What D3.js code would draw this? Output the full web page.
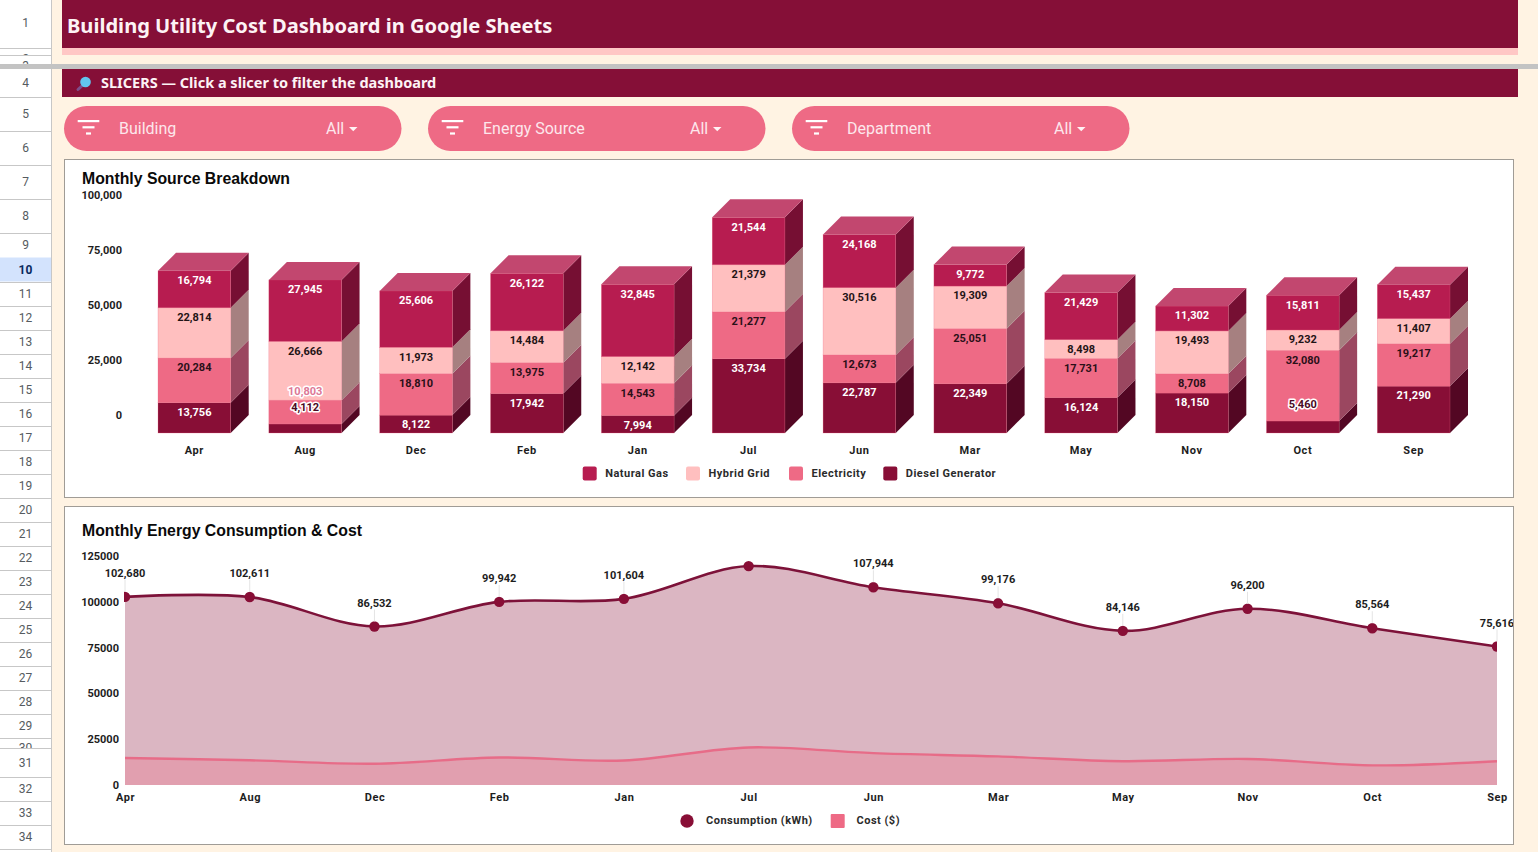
<!DOCTYPE html>
<html lang="en">
<head>
<meta charset="utf-8">
<title>Building Utility Cost Dashboard in Google Sheets</title>
<script src="https://cdn.jsdelivr.net/npm/d3@7"></script>
<style>
  html, body { margin: 0; padding: 0; background: #fff3e3; overflow: hidden; }
  svg { display: block; }
  text { font-family: Roboto, sans-serif; }
  text.heading { font-family: 'Noto Sans', sans-serif; }
  text.card-title { font-family: 'Liberation Sans', Arial, sans-serif; }
  text.spaced { letter-spacing: 0.5px; }
  .axis path, .axis line { display: none; }
  .axis text { font-family: Roboto, sans-serif; font-size: 11px; font-weight: 700; fill: #1d1d1d; }
  .axis.months text { letter-spacing: 0.6px; }
</style>
</head>
<body>
<svg id="sheet" width="1538" height="852"></svg>
<script>
// Chart data
const months = ["Apr", "Aug", "Dec", "Feb", "Jan", "Jul", "Jun", "Mar", "May", "Nov", "Oct", "Sep"];
const dieselGenerator = [13756, 4112, 8122, 17942, 7994, 33734, 22787, 22349, 16124, 18150, 5460, 21290];
const electricity = [20284, 10803, 18810, 13975, 14543, 21277, 12673, 25051, 17731, 8708, 32080, 19217];
const hybridGrid = [22814, 26666, 11973, 14484, 12142, 21379, 30516, 19309, 8498, 19493, 9232, 11407];
const naturalGas = [16794, 27945, 25606, 26122, 32845, 21544, 24168, 9772, 21429, 11302, 15811, 15437];
const consumption = [102680, 102611, 86532, 99942, 101604, 119500, 107944, 99176, 84146, 96200, 85564, 75616];
const cost = [14700, 13500, 11600, 15000, 13400, 20500, 17400, 15600, 13000, 14200, 10700, 13000];
const barTicks = [0, 25000, 50000, 75000, 100000];
const lineTicks = [0, 25000, 50000, 75000, 100000, 125000];
const slicerNames = ["Building", "Energy Source", "Department"];
const sourceNames = ["Diesel Generator", "Electricity", "Hybrid Grid", "Natural Gas"];
const legendOrder = ["Natural Gas", "Hybrid Grid", "Electricity", "Diesel Generator"];
const unlabelledMonths = ["Jul"];

const frontColor = d3.scaleOrdinal(sourceNames, ["#880e36", "#ee6a85", "#ffbfbf", "#b71c50"]);
const sideColor = d3.scaleOrdinal(sourceNames, ["#530723", "#9b4760", "#a68080", "#760f33"]);
const labelColor = d3.scaleOrdinal(sourceNames, ["#ffffff", "#2a1018", "#1f1416", "#ffffff"]);
const raisedColor = d3.scaleOrdinal(sourceNames, ["#4a0a24", "#dd7897", "#1f1416", "#1f1416"]);
const topColor = "#c2476f";
const maroon = "#880e36";
const rose = "#ee6a85";

const svg = d3.select("#sheet");
const defs = svg.append("defs");

// ---- Spreadsheet frame: row gutter, title band, slicer band ----
const rowEdges = [0, 48, 55, 64, 97, 131, 165, 199, 233]
  .concat(d3.range(257.5, 738, 24), [748, 777, 801, 825, 849]);
const rowNumbers = [1, 2, 3].concat(d3.range(4, 35));
const activeRow = 10;

const gutter = svg.append("g");
gutter.append("rect").attr("width", 51.5).attr("height", 852).attr("fill", "#ffffff");

rowNumbers.forEach((n, i) => {
  const y0 = n === 4 ? 69 : rowEdges[i], y1 = rowEdges[i + 1];
  const clipId = "row-clip-" + n;
  defs.append("clipPath").attr("id", clipId)
    .append("rect").attr("x", 0).attr("y", y0).attr("width", 52).attr("height", y1 - y0);
  if (n === activeRow) {
    gutter.append("rect").attr("y", y0).attr("width", 51.5).attr("height", y1 - y0).attr("fill", "#d3e3fd");
  }
  const squeezed = y1 - y0 < 14;
  const cy = n === 1 ? 23 : (squeezed ? y0 + 10.5 : (y0 + y1) / 2);
  gutter.append("text")
    .attr("clip-path", `url(#${clipId})`)
    .attr("x", 25.5).attr("y", cy).attr("dy", "0.35em")
    .attr("text-anchor", "middle")
    .attr("font-size", 12)
    .attr("font-weight", n === activeRow ? 700 : 400)
    .attr("fill", n === activeRow ? "#0b2a5e" : "#555b60")
    .text(n);
  gutter.append("line")
    .attr("x1", 0).attr("x2", 51.5).attr("y1", Math.round(y1) + 0.5).attr("y2", Math.round(y1) + 0.5)
    .attr("stroke", "#c7c7c7");
});
gutter.append("line").attr("x1", 51.5).attr("x2", 51.5).attr("y1", 0).attr("y2", 852).attr("stroke", "#c7c7c7");

svg.append("rect").attr("x", 62).attr("y", 0).attr("width", 1456).attr("height", 48).attr("fill", "#850f37");
svg.append("rect").attr("x", 62).attr("y", 48).attr("width", 1456).attr("height", 7).attr("fill", "#ffc7c5");
svg.append("text").attr("class", "heading").attr("x", 67).attr("y", 32.5)
  .attr("font-size", 20.1).attr("font-weight", 700)
  .attr("fill", "#fdf3f5").text("Building Utility Cost Dashboard in Google Sheets");

svg.append("rect").attr("x", 62).attr("y", 69).attr("width", 1456).attr("height", 28).attr("fill", "#850f37");
svg.append("rect").attr("x", 0).attr("y", 64).attr("width", 1538).attr("height", 5).attr("fill", "#c3c3c3");

// Magnifier glyph in the slicer band
const glass = svg.append("g");
glass.append("line").attr("x1", 84).attr("y1", 84).attr("x2", 78).attr("y2", 89.5)
  .attr("stroke", "#7d4f8c").attr("stroke-width", 3).attr("stroke-linecap", "round");
glass.append("circle").attr("cx", 85.5).attr("cy", 82).attr("r", 5.3).attr("fill", "#62c6ee");
svg.append("text").attr("class", "heading").attr("x", 101).attr("y", 88)
  .attr("font-size", 14.5).attr("font-weight", 700).attr("fill", "#fdf3f5")
  .text("SLICERS — Click a slicer to filter the dashboard");

// ---- Slicer pills ----
const pillX = d3.scalePoint().domain(slicerNames).range([64, 792]);
const pills = svg.selectAll(".pill").data(slicerNames).join("g")
  .attr("class", "pill")
  .attr("transform", d => `translate(${pillX(d)},106)`);
pills.append("rect").attr("width", 337.5).attr("height", 45).attr("rx", 22.5).attr("fill", rose);
pills.each(function () {
  const g = d3.select(this);
  [[13.7, 21.6], [18.5, 12], [22, 5]].forEach(([a, b], i) => {
    g.append("rect").attr("x", a).attr("y", 14 + i * 6.2).attr("width", b).attr("height", 2.2).attr("fill", "#fff");
  });
  g.append("path").attr("d", "M285,21 h8.5 l-4.25,4.2 z").attr("fill", "#fff3f5");
});
pills.append("text").attr("x", 55).attr("y", 28).attr("font-size", 16).attr("fill", "#fde7ec").text(d => d);
pills.append("text").attr("x", 262).attr("y", 28).attr("font-size", 16).attr("fill", "#fde7ec").text("All");

// ---- Cards ----
[[159.5, 184, "Monthly Source Breakdown"], [506.5, 536, "Monthly Energy Consumption & Cost"]].forEach(([y, base, title]) => {
  svg.append("rect").attr("x", 64.5).attr("y", y).attr("width", 1449).attr("height", 338)
    .attr("fill", "#ffffff").attr("stroke", "#a09c96");
  svg.append("text").attr("class", "card-title").attr("x", 82).attr("y", base)
    .attr("font-size", 15.8).attr("font-weight", 700).attr("fill", "#0a0a0a").text(title);
});

// ---- Stacked 3D columns ----
const depth = 18;
const barX = d3.scaleBand().domain(months).range([158, 1450]).paddingInner(0.344).paddingOuter(0);
const barY = d3.scaleLinear().domain([0, 100000]).range([433, 212.8]);

const stackRows = months.map((m, i) => ({
  month: m,
  "Diesel Generator": dieselGenerator[i],
  "Electricity": electricity[i],
  "Hybrid Grid": hybridGrid[i],
  "Natural Gas": naturalGas[i]
}));
const layers = d3.stack().keys(sourceNames)(stackRows);

const columns = svg.append("g");
layers.forEach(layer => {
  layer.forEach(seg => {
    const m = seg.data.month;
    const x0 = barX(m), x1 = x0 + barX.bandwidth();
    const y0 = barY(seg[0]), y1 = barY(seg[1]);
    columns.append("path")
      .attr("d", `M${x1},${y1} L${x1 + depth},${y1 - depth} L${x1 + depth},${y0 - depth} L${x1},${y0} Z`)
      .attr("fill", sideColor(layer.key));
    columns.append("rect")
      .attr("x", x0).attr("y", y1).attr("width", x1 - x0).attr("height", y0 - y1)
      .attr("fill", frontColor(layer.key))
      .attr("stroke", rose).attr("stroke-width", 0.5).attr("stroke-opacity", 0.55);
    if (layer.key === "Natural Gas") {
      columns.append("path")
        .attr("d", `M${x0},${y1} L${x0 + depth},${y1 - depth} L${x1 + depth},${y1 - depth} L${x1},${y1} Z`)
        .attr("fill", topColor);
    }
  });
});

// Value labels sit near the top of each segment. A segment too short to hold its
// label pushes it above the segment, and the label above moves clear of it.
months.forEach(m => {
  let lastY = Infinity;
  layers.forEach(layer => {
    const seg = layer.find(s => s.data.month === m);
    const value = seg[1] - seg[0];
    const top = barY(seg[1]);
    let y = top + 9.5, raised = false;
    if (value < 6000) { y = top - 17; raised = true; }
    else if (lastY - y < 14 && lastY - y > -14) { y = top - 9.5; raised = true; }
    lastY = y;
    const label = columns.append("text")
      .attr("x", barX(m) + barX.bandwidth() / 2).attr("y", y).attr("dy", "0.35em")
      .attr("text-anchor", "middle").attr("font-size", 11).attr("font-weight", 700)
      .attr("fill", raised ? raisedColor(layer.key) : labelColor(layer.key))
      .text(d3.format(",")(value));
    if (raised) {
      label.attr("stroke", "#ffffff").attr("stroke-width", 3)
        .attr("stroke-linejoin", "round").attr("paint-order", "stroke");
    }
  });
});

// Axis labels are lifted by the column depth, as the 3D floor sits behind the front face.
svg.append("g").attr("class", "axis")
  .attr("transform", `translate(122,${-depth - 0.2})`)
  .call(d3.axisLeft(barY).tickValues(barTicks).tickFormat(d3.format(",")).tickSize(0).tickPadding(0));
svg.append("g").attr("class", "axis months")
  .attr("transform", `translate(0,${barY(0)})`)
  .call(d3.axisBottom(barX).tickSize(0).tickPadding(13));

// Column legend
const legendSquareX = d3.scaleOrdinal(legendOrder, [582.7, 686, 789, 883.3]);
const barLegend = svg.selectAll(".bar-legend").data(legendOrder).join("g")
  .attr("class", "bar-legend")
  .attr("transform", d => `translate(${legendSquareX(d)},466.5)`);
barLegend.append("rect").attr("width", 14).attr("height", 14).attr("rx", 2).attr("fill", d => frontColor(d));
barLegend.append("text").attr("class", "spaced").attr("x", 22.5).attr("y", 6.5).attr("dy", "0.35em")
  .attr("font-size", 11).attr("font-weight", 700).attr("fill", "#2b2b2b").text(d => d);

// ---- Consumption and cost areas ----
const lineX = d3.scalePoint().domain(months).range([125, 1497]);
const lineY = d3.scaleLinear().domain([0, 125000]).range([785, 556]);
const smooth = d3.curveCatmullRom.alpha(0.5);
const areaOf = values => d3.area().curve(smooth)
  .x((d, i) => lineX(months[i])).y0(lineY(0)).y1(d => lineY(d))(values);
const lineOf = values => d3.line().curve(smooth)
  .x((d, i) => lineX(months[i])).y(d => lineY(d))(values);

defs.append("clipPath").attr("id", "plot-clip")
  .append("rect").attr("x", 124).attr("y", 540).attr("width", 1373).attr("height", 245.5);
defs.append("clipPath").attr("id", "card-clip")
  .append("rect").attr("x", 65).attr("y", 507).attr("width", 1448).attr("height", 337);

const plot = svg.append("g").attr("clip-path", "url(#plot-clip)");
plot.append("path").attr("d", areaOf(consumption)).attr("fill", maroon).attr("fill-opacity", 0.3);
plot.append("path").attr("d", areaOf(cost)).attr("fill", rose).attr("fill-opacity", 0.3);
plot.append("path").attr("d", lineOf(cost)).attr("fill", "none").attr("stroke", "#e76c88").attr("stroke-width", 2.4);
plot.append("path").attr("d", lineOf(consumption)).attr("fill", "none").attr("stroke", "#7d1239").attr("stroke-width", 2.6);
plot.selectAll(".dot").data(consumption).join("circle")
  .attr("class", "dot")
  .attr("cx", (d, i) => lineX(months[i])).attr("cy", d => lineY(d)).attr("r", 5.2)
  .attr("fill", maroon);

const callouts = svg.append("g").attr("clip-path", "url(#card-clip)");
months.forEach((m, i) => {
  if (unlabelledMonths.includes(m)) return;
  const x = lineX(m), y = lineY(consumption[i]);
  callouts.append("line").attr("x1", x).attr("x2", x).attr("y1", y - 5).attr("y2", y - 17)
    .attr("stroke", "#e4e4e4");
  callouts.append("text").attr("x", x).attr("y", y - 23.7).attr("dy", "0.35em")
    .attr("text-anchor", "middle").attr("font-size", 11).attr("font-weight", 700).attr("fill", "#1d1d1d")
    .text(d3.format(",")(consumption[i]));
});

svg.append("g").attr("class", "axis")
  .attr("transform", "translate(119,0)")
  .call(d3.axisLeft(lineY).tickValues(lineTicks).tickFormat(d3.format("d")).tickSize(0).tickPadding(0));
svg.append("g").attr("class", "axis months")
  .attr("transform", `translate(0,${lineY(0)})`)
  .call(d3.axisBottom(lineX).tickSize(0).tickPadding(8));

// Area legend
svg.append("circle").attr("cx", 687).attr("cy", 821).attr("r", 6.7).attr("fill", maroon);
svg.append("text").attr("class", "spaced").attr("x", 706).attr("y", 820).attr("dy", "0.35em")
  .attr("font-size", 11).attr("font-weight", 700).attr("fill", "#2b2b2b").text("Consumption (kWh)");
svg.append("rect").attr("x", 830.7).attr("y", 814).attr("width", 14).attr("height", 14).attr("rx", 1).attr("fill", rose);
svg.append("text").attr("class", "spaced").attr("x", 856.5).attr("y", 820).attr("dy", "0.35em")
  .attr("font-size", 11).attr("font-weight", 700).attr("fill", "#2b2b2b").text("Cost ($)");
</script>
</body>
</html>
